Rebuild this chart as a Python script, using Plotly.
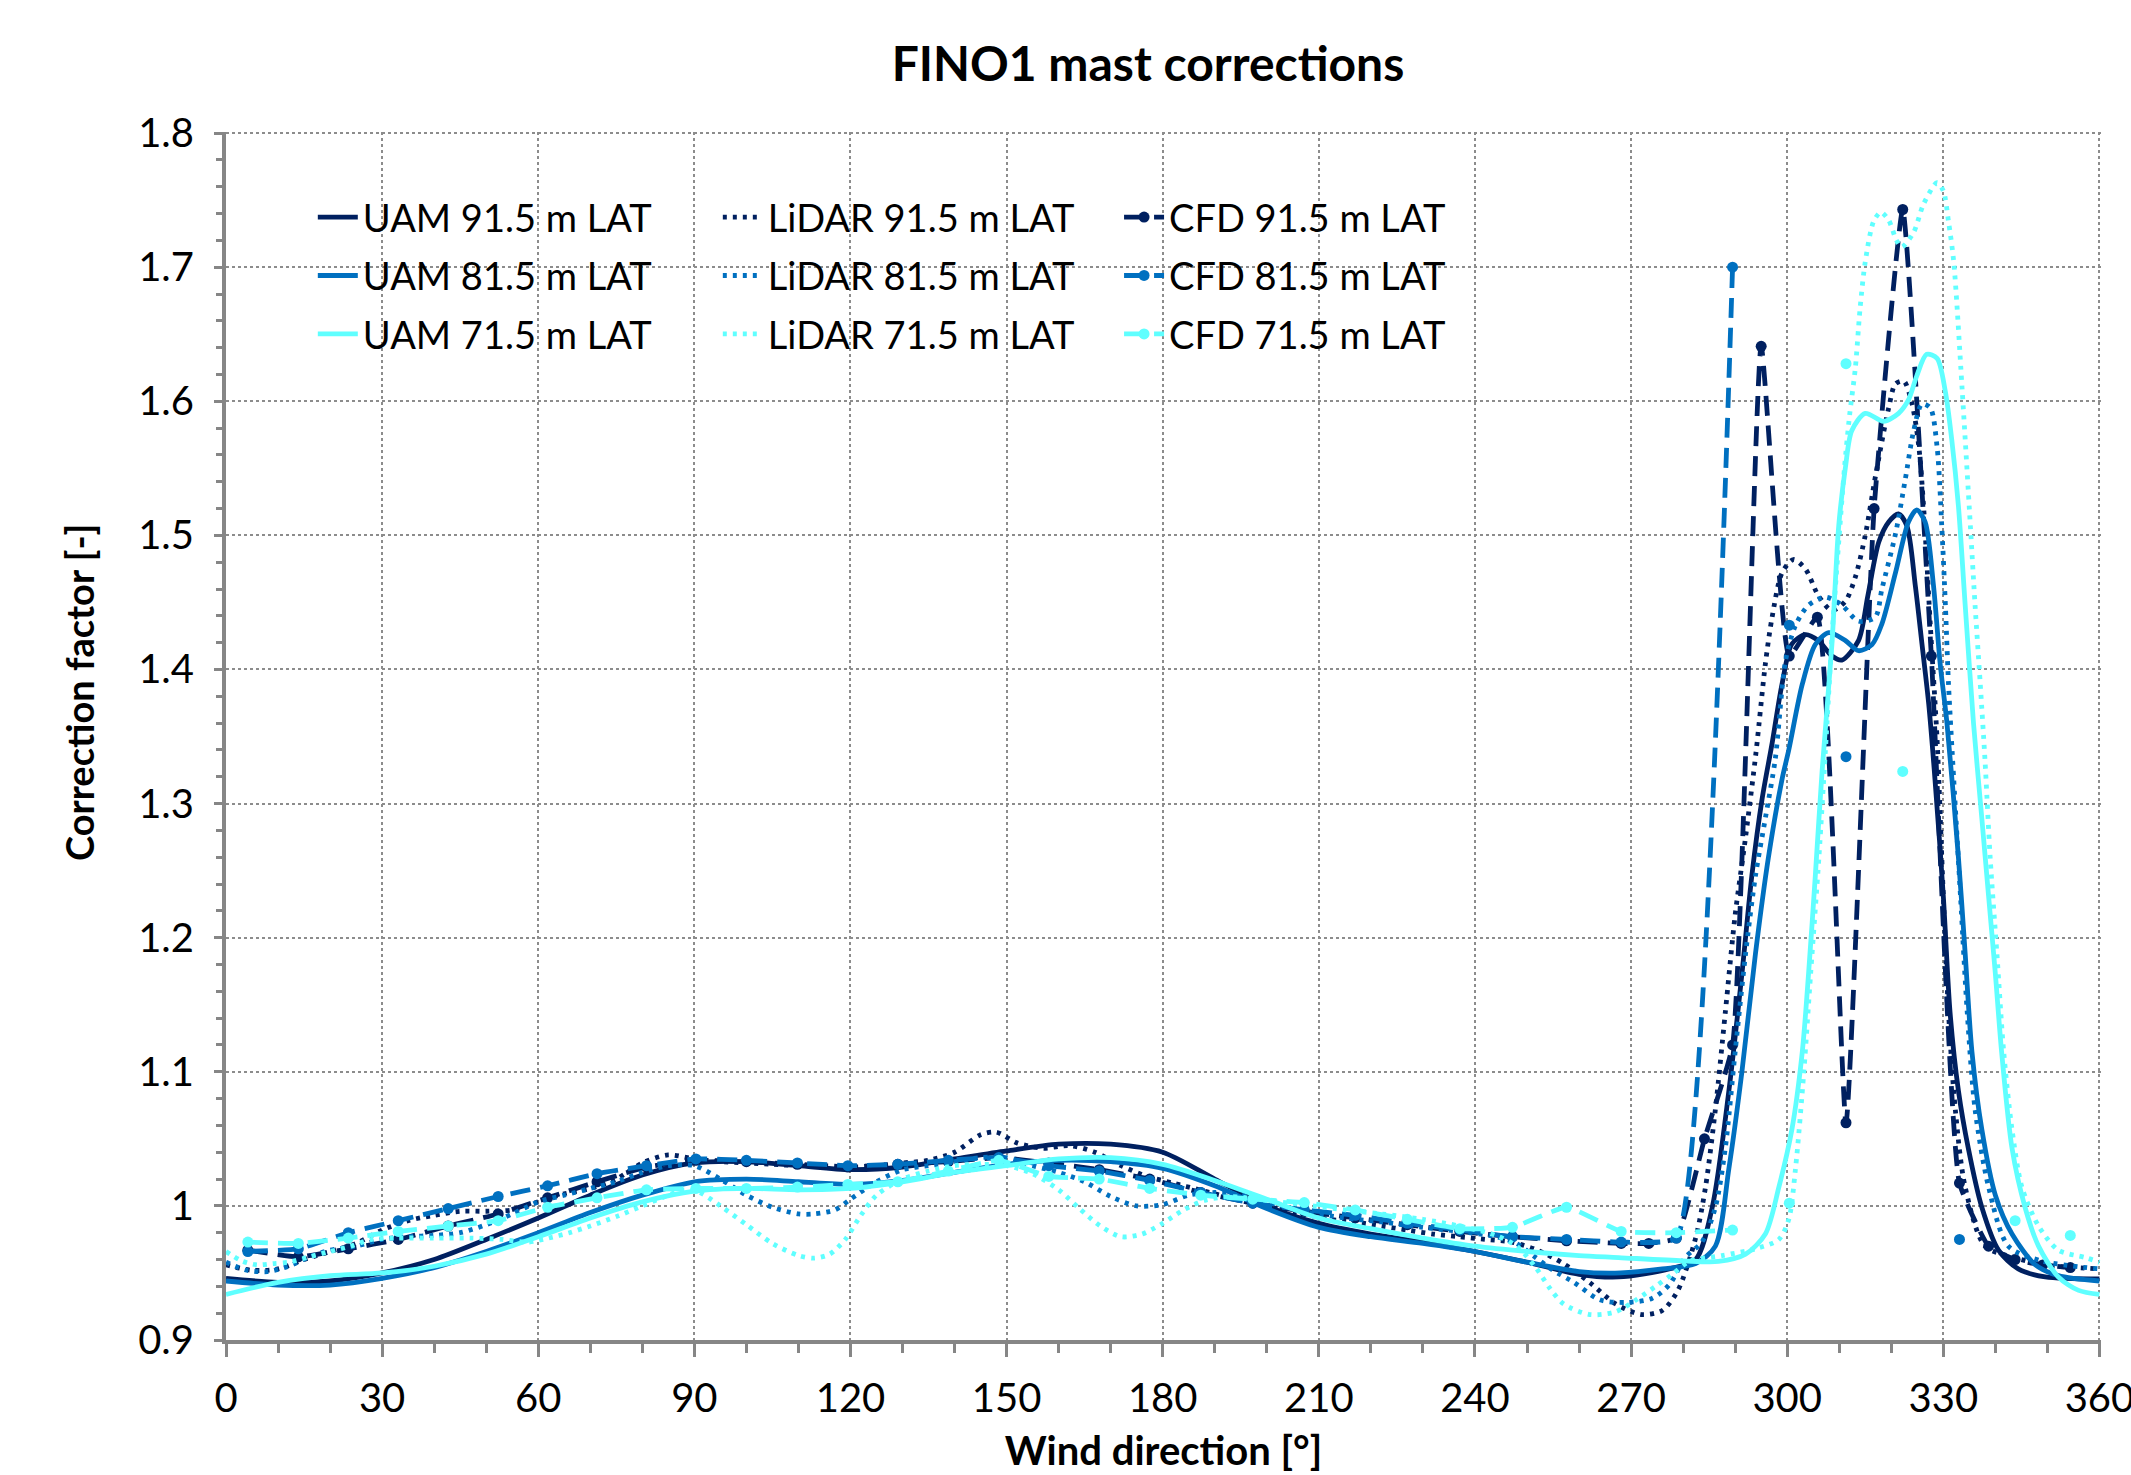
import plotly.graph_objects as go

# ---------------- data ----------------
UAM91_DIR = [0, 10, 20, 30, 40, 50, 60, 70, 80, 90, 100, 110, 120, 130, 140, 150, 160, 170, 180, 190,
             200, 210, 220, 230, 240, 250, 260, 267.6, 277.3, 282.4, 285.6, 288.8, 291.3, 293.2, 295.2,
             297.1, 299, 300.9, 303.5, 306, 308.6, 310.5, 313.7, 315.5, 317.6, 319.5, 321.4, 323, 324.6,
             325.9, 327.2, 328.4, 330, 331.3, 332.9, 334.8, 337.4, 340.6, 344.4, 349.6, 360]
UAM91_VAL = [0.946, 0.943, 0.944, 0.950, 0.960, 0.975, 0.991, 1.008, 1.023, 1.032, 1.033, 1.030, 1.027,
             1.029, 1.035, 1.041, 1.046, 1.046, 1.040, 1.020, 1.000, 0.987, 0.979, 0.973, 0.966, 0.958,
             0.949, 0.947, 0.953, 0.960, 0.999, 1.086, 1.173, 1.246, 1.304, 1.345, 1.389, 1.419, 1.426,
             1.4215, 1.410, 1.407, 1.4215, 1.455, 1.495, 1.510, 1.516, 1.507, 1.463, 1.419, 1.374, 1.318,
             1.231, 1.144, 1.086, 1.043, 0.999, 0.967, 0.953, 0.947, 0.9455]

UAM81_DIR = [0, 10, 20, 30, 40, 50, 60, 70, 80, 90, 100, 110, 120, 130, 140, 150, 160, 170, 180, 190,
             200, 210, 220, 230, 240, 250, 260, 268, 276, 282.4, 286.2, 288.8, 291.3, 293.9, 296.4, 299,
             300.3, 302.9, 305.4, 308, 311.2, 313.7, 316.3, 318.2, 320.8, 323.3, 324.9, 326.5, 328.1,
             329.4, 330.7, 332.9, 334.2, 335.5, 337.4, 340, 343.2, 347.7, 352.1, 360]
UAM81_VAL = [0.944, 0.941, 0.941, 0.946, 0.954, 0.966, 0.980, 0.995, 1.008, 1.018, 1.020, 1.018, 1.016,
             1.019, 1.025, 1.031, 1.034, 1.033, 1.028, 1.015, 0.998, 0.984, 0.977, 0.972, 0.966, 0.958,
             0.951, 0.950, 0.953, 0.957, 0.970, 1.028, 1.100, 1.188, 1.260, 1.318, 1.340, 1.389, 1.4186,
             1.4275, 1.4215, 1.414, 1.4186, 1.434, 1.472, 1.510, 1.519, 1.510, 1.463, 1.404, 1.360, 1.260,
             1.188, 1.115, 1.057, 1.008, 0.979, 0.956, 0.948, 0.944]

UAM71_DIR = [0, 10, 20, 30, 40, 50, 60, 70, 80, 90, 100, 110, 120, 130, 140, 150, 160, 170, 180, 190,
             200, 210, 220, 230, 240, 250, 260, 267.6, 280, 286.8, 292, 295.8, 298.4, 300.9, 302.9, 304.1,
             305.4, 306.7, 308.6, 309.9, 311.2, 312.4, 315, 318.5, 321.4, 323.3, 324.9, 326.8, 328.8,
             330.4, 331.6, 332.9, 334.2, 335.8, 337.4, 338.7, 340, 341.2, 343.2, 345.7, 348.3, 352.1, 356, 360]
UAM71_VAL = [0.934, 0.943, 0.948, 0.950, 0.955, 0.964, 0.977, 0.991, 1.003, 1.011, 1.013, 1.012, 1.013,
             1.018, 1.025, 1.030, 1.035, 1.036, 1.031, 1.019, 1.005, 0.991, 0.983, 0.976, 0.970, 0.966,
             0.963, 0.9615, 0.959, 0.9586, 0.964, 0.979, 1.014, 1.057, 1.115, 1.173, 1.246, 1.324, 1.419,
             1.507, 1.551, 1.578, 1.591, 1.585, 1.591, 1.601, 1.619, 1.635, 1.632, 1.607, 1.572, 1.522,
             1.448, 1.360, 1.289, 1.231, 1.173, 1.115, 1.043, 0.999, 0.970, 0.947, 0.937, 0.934]

LID91_DIR = [0, 5, 10, 15, 20, 25, 30, 35, 40, 45, 50, 55, 60, 65, 70, 75, 80, 85, 90, 95, 100, 105, 110,
             115, 120, 125, 130, 135, 140, 145, 148, 152, 157, 162, 167, 172, 177, 182, 187, 192, 197, 202,
             207, 212, 217, 222, 227, 232, 237, 242, 247, 252, 257, 262, 267, 272, 276, 279, 282.4, 284.3,
             286.2, 288.1, 290, 292, 294, 295.8, 297.1, 299, 301.2, 303.5, 306, 308.6, 311.2, 313.1, 315,
             317, 319.5, 320.8, 322.4, 324, 325.3, 326.2, 327.5, 328.8, 330, 331, 332.3, 334.2, 338, 343.2,
             349.6, 360]
LID91_VAL = [0.956, 0.952, 0.953, 0.960, 0.966, 0.972, 0.982, 0.989, 0.993, 0.996, 0.996, 0.997, 1.003,
             1.009, 1.013, 1.020, 1.032, 1.038, 1.035, 1.033, 1.032, 1.031, 1.030, 1.030, 1.029, 1.030,
             1.032, 1.034, 1.040, 1.053, 1.055, 1.047, 1.043, 1.045, 1.040, 1.030, 1.022, 1.017, 1.012,
             1.007, 1.002, 0.998, 0.994, 0.990, 0.988, 0.985, 0.982, 0.979, 0.977, 0.975, 0.973, 0.967,
             0.957, 0.943, 0.927, 0.919, 0.922, 0.937, 0.976, 1.014, 1.072, 1.144, 1.217, 1.275, 1.338,
             1.404, 1.439, 1.472, 1.482, 1.475, 1.455, 1.444, 1.451, 1.469, 1.500, 1.545, 1.595, 1.613,
             1.615, 1.598, 1.566, 1.522, 1.433, 1.348, 1.231, 1.144, 1.072, 1.014, 0.970, 0.962, 0.956, 0.953]

LID81_DIR = [0, 4, 8, 12, 16, 20, 25, 30, 35, 40, 45, 50, 55, 60, 65, 70, 75, 80, 85, 90, 95, 100, 105,
             110, 113, 117, 120, 125, 130, 135, 140, 145, 150, 155, 160, 165, 170, 175, 180, 185, 190, 195,
             200, 207, 215, 222, 230, 237, 244, 248, 251.5, 255, 259, 264, 269, 274, 277.3, 280.4, 283.6,
             286.2, 288.1, 290, 292, 293.9, 295.8, 297.7, 299.7, 301.6, 304.1, 307.3, 310.5, 313.7, 316.9,
             318.2, 320.8, 322.7, 324.3, 325.9, 327.5, 328.8, 329.7, 330.4, 331, 332, 333.3, 334.6, 336.1,
             338.7, 342.5, 348.9, 360]
LID81_VAL = [0.958, 0.952, 0.951, 0.955, 0.962, 0.967, 0.970, 0.975, 0.977, 0.978, 0.980, 0.986, 0.994,
             1.003, 1.008, 1.013, 1.018, 1.025, 1.030, 1.030, 1.020, 1.008, 0.999, 0.994, 0.994, 0.997,
             1.005, 1.018, 1.027, 1.030, 1.033, 1.036, 1.036, 1.030, 1.025, 1.018, 1.007, 1.000, 1.001,
             1.008, 1.010, 1.008, 1.003, 0.996, 0.991, 0.988, 0.984, 0.981, 0.977, 0.972, 0.962, 0.952,
             0.943, 0.930, 0.928, 0.931, 0.941, 0.9615, 0.973, 0.999, 1.043, 1.115, 1.188, 1.246, 1.289,
             1.333, 1.407, 1.433, 1.448, 1.454, 1.448, 1.436, 1.439, 1.460, 1.501, 1.542, 1.578, 1.598,
             1.595, 1.566, 1.507, 1.448, 1.389, 1.318, 1.231, 1.144, 1.072, 1.014, 0.970, 0.959, 0.953]

LID71_DIR = [0, 3, 6, 9, 12, 16, 20, 24, 28, 33, 40, 47, 53, 58, 62, 66, 70, 75, 80, 85, 88, 91, 95, 100,
             105, 110, 113, 116, 119, 122, 125, 130, 135, 140, 145, 150, 155, 160, 164, 168, 172, 176, 180,
             184, 188, 193, 200, 207, 215, 222, 230, 237, 244, 248, 251.5, 254.5, 257, 262, 267, 271,
             274.7, 277.9, 281.4, 287.5, 293.9, 298.4, 300.3, 301.6, 303.2, 304.5, 306.1, 307.5, 308.7, 310,
             311, 312, 313.1, 314, 315, 316.6, 318, 319.5, 321, 322, 324.3, 326.2, 328.8, 330, 331, 332,
             333.6, 335.2, 336.1, 337.1, 338, 339, 340.3, 341.6, 343.2, 345.1, 348.3, 352.1, 357.3, 360]
LID71_VAL = [0.966, 0.959, 0.956, 0.957, 0.958, 0.962, 0.966, 0.970, 0.975, 0.976, 0.976, 0.976, 0.975,
             0.973, 0.976, 0.980, 0.985, 0.992, 1.000, 1.008, 1.012, 1.010, 1.000, 0.986, 0.972, 0.963,
             0.961, 0.964, 0.975, 0.993, 1.008, 1.020, 1.026, 1.030, 1.031, 1.030, 1.024, 1.012, 0.998,
             0.985, 0.977, 0.979, 0.987, 0.997, 1.004, 1.007, 1.004, 1.001, 0.997, 0.994, 0.990, 0.985,
             0.978, 0.970, 0.955, 0.938, 0.927, 0.919, 0.921, 0.930, 0.940, 0.949, 0.959, 0.963, 0.968,
             0.975, 0.990, 1.028, 1.100, 1.173, 1.260, 1.350, 1.430, 1.500, 1.550, 1.590, 1.625, 1.669,
             1.704, 1.734, 1.741, 1.735, 1.720, 1.715, 1.726, 1.747, 1.763, 1.757, 1.734, 1.704, 1.610,
             1.507, 1.448, 1.389, 1.333, 1.260, 1.188, 1.115, 1.057, 1.014, 0.985, 0.967, 0.9615, 0.958]

CFD91_DIR = [4.2, 13.9, 23.5, 33.1, 42.7, 52.3, 61.8, 71.3, 80.8, 90.3, 100.0, 109.8, 119.5, 129.1, 138.8,
             148.5, 158.1, 167.8, 177.5, 187.3, 197.3, 207.2, 217.0, 227.0, 237.1, 247.2, 257.6, 268.1,
             273.4, 278.7, 284.1, 289.5, 295.0, 300.4, 305.8, 311.3, 316.7, 322.2, 327.7, 333.1, 338.7,
             343.8, 349.1, 354.4]
CFD91_VAL = [0.967, 0.962, 0.968, 0.975, 0.985, 0.994, 1.006, 1.018, 1.029, 1.034, 1.033, 1.031, 1.029,
             1.031, 1.033, 1.036, 1.032, 1.027, 1.020, 1.010, 1.002, 0.996, 0.991, 0.986, 0.981, 0.977,
             0.974, 0.972, 0.972, 0.976, 1.050, 1.120, 1.641, 1.410, 1.439, 1.062, 1.520, 1.743, 1.410,
             1.017, 0.970, 0.960, 0.956, 0.954]

CFD81_DIR = [4.2, 13.9, 23.5, 33.1, 42.7, 52.3, 61.8, 71.3, 80.8, 90.3, 100.0, 109.8, 119.5, 129.1, 138.8,
             148.5, 158.1, 167.8, 177.5, 187.3, 197.3, 207.2, 217.0, 227.0, 237.1, 247.2, 257.6, 268.1,
             278.7, 289.5, 295.0, 300.4, 305.8, 311.3, 322.2, 333.1]
CFD81_VAL = [0.966, 0.968, 0.980, 0.989, 0.998, 1.007, 1.015, 1.024, 1.030, 1.035, 1.034, 1.032, 1.030,
             1.031, 1.034, 1.036, 1.030, 1.026, 1.019, 1.010, 1.002, 0.997, 0.993, 0.987, 0.982, 0.977,
             0.975, 0.973, 0.976, 1.700, None, 1.433, None, 1.335, None, 0.975]

CFD71_DIR = [4.2, 13.9, 23.5, 33.1, 42.7, 52.3, 61.8, 71.3, 80.8, 90.3, 100.0, 109.8, 119.5, 129.1, 138.8,
             148.5, 158.1, 167.8, 177.5, 187.3, 197.3, 207.2, 217.0, 227.0, 237.1, 247.2, 257.6, 268.1,
             278.7, 289.5, 295.0, 300.4, 305.8, 311.3, 316.7, 322.2, 333.1, 343.8, 349.1, 354.4]
CFD71_VAL = [0.973, 0.972, 0.976, 0.981, 0.985, 0.989, 0.999, 1.006, 1.012, 1.013, 1.013, 1.014, 1.016,
             1.018, 1.026, 1.034, 1.022, 1.020, 1.013, 1.008, 1.005, 1.0025, 0.997, 0.990, 0.983, 0.984,
             0.999, 0.981, 0.980, 0.982, None, 1.002, None, 1.628, None, 1.324, None, 0.989, None, 0.978]

X_TICKS = [0, 30, 60, 90, 120, 150, 180, 210, 240, 270, 300, 330, 360]
Y_TICKS = [0.9, 1.0, 1.1, 1.2, 1.3, 1.4, 1.5, 1.6, 1.7, 1.8]
Y_TICK_TEXT = ["0.9", "1", "1.1", "1.2", "1.3", "1.4", "1.5", "1.6", "1.7", "1.8"]
X_RANGE = [0, 360.3]
Y_RANGE = [0.9, 1.8008]

NAVY, BLUE, CYAN = "#002060", "#0070C0", "#5FFFFF"
FONT = "Lato, 'Open Sans', sans-serif"

fig = go.Figure()

series = [
    ("UAM 91.5 m LAT", UAM91_DIR, UAM91_VAL, NAVY, "uam", "legend"),
    ("LiDAR 91.5 m LAT", LID91_DIR, LID91_VAL, NAVY, "lid", "legend2"),
    ("CFD 91.5 m LAT", CFD91_DIR, CFD91_VAL, NAVY, "cfd", "legend3"),
    ("UAM 81.5 m LAT", UAM81_DIR, UAM81_VAL, BLUE, "uam", "legend"),
    ("LiDAR 81.5 m LAT", LID81_DIR, LID81_VAL, BLUE, "lid", "legend2"),
    ("CFD 81.5 m LAT", CFD81_DIR, CFD81_VAL, BLUE, "cfd", "legend3"),
    ("UAM 71.5 m LAT", UAM71_DIR, UAM71_VAL, CYAN, "uam", "legend"),
    ("LiDAR 71.5 m LAT", LID71_DIR, LID71_VAL, CYAN, "lid", "legend2"),
    ("CFD 71.5 m LAT", CFD71_DIR, CFD71_VAL, CYAN, "cfd", "legend3"),
]

for name, xs, ys, col, kind, lg in series:
    if kind == "uam":
        fig.add_trace(go.Scatter(x=xs, y=ys, name=name, mode="lines", legend=lg, legendgroup=name,
                                 line=dict(color=col, width=4.8, shape="spline", smoothing=0.8)))
    elif kind == "lid":
        fig.add_trace(go.Scatter(x=xs, y=ys, name=name, mode="lines", legend=lg, legendgroup=name,
                                 line=dict(color=col, width=4.8, dash="4px,6px", shape="spline", smoothing=0.8)))
    else:
        fig.add_trace(go.Scatter(x=xs, y=ys, name=name, mode="lines+markers", legend=lg, legendgroup=name,
                                 connectgaps=False,
                                 line=dict(color=col, width=4.8, dash="20px,10px", shape="spline", smoothing=0.4),
                                 marker=dict(color=col, size=11, symbol="circle")))

axis_gray = "#868686"
grid_gray = "#8c8c8c"

legend_common = dict(yanchor="top", xanchor="left", bgcolor="rgba(0,0,0,0)",
                     font=dict(size=38), tracegroupgap=6, itemwidth=40)

fig.update_layout(
    width=2131, height=1475,
    margin=dict(l=226, r=30, t=132, b=135, autoexpand=False),
    paper_bgcolor="white", plot_bgcolor="white",
    font=dict(family=FONT, size=38, color="black"),
    title=dict(text="<b>FINO1 mast corrections</b>", x=0.5387, xanchor="center",
               y=1 - 64 / 1475, yanchor="middle", font=dict(family=FONT, size=48, color="black")),
    xaxis=dict(range=X_RANGE, tickvals=X_TICKS, showgrid=True, gridcolor=grid_gray, griddash="dot",
               gridwidth=1.5, showline=True, linecolor=axis_gray, linewidth=4, ticks="outside",
               ticklen=13, tickwidth=2.5, tickcolor=axis_gray, ticklabelstandoff=7, zeroline=False,
               automargin=False, ticklabeloverflow="allow",
               minor=dict(dtick=10, ticks="outside", ticklen=9, tickwidth=2.5, tickcolor=axis_gray, showgrid=False),
               title=dict(text="<b>Wind direction [°]</b>", font=dict(size=40), standoff=18),
               tickfont=dict(size=40)),
    yaxis=dict(range=Y_RANGE, tickvals=Y_TICKS, ticktext=Y_TICK_TEXT, showgrid=True, gridcolor=grid_gray,
               griddash="dot", gridwidth=1.5, showline=True, linecolor=axis_gray, linewidth=4,
               ticks="outside", ticklen=8, tickwidth=2.5, tickcolor=axis_gray, ticklabelstandoff=12,
               zeroline=False, automargin=False,
               minor=dict(dtick=0.02, ticks="outside", ticklen=6, tickwidth=2.5, tickcolor=axis_gray, showgrid=False),
               tickfont=dict(size=40)),
    annotations=[dict(text="<b>Correction factor [-]</b>", textangle=-90, xref="paper", yref="paper",
                      x=(79 - 226) / 1875, y=(1340 - 692) / 1208, xanchor="center", yanchor="middle",
                      showarrow=False, font=dict(size=38, family=FONT, color="black"))],
    legend=dict(x=0.0463, y=0.9554, **legend_common),
    legend2=dict(x=0.2623, y=0.9554, **legend_common),
    legend3=dict(x=0.4763, y=0.9554, **legend_common),
)

fig.write_html("out.html", config={"displayModeBar": False},
               post_script="document.body.style.margin='0px';document.body.style.overflow='hidden';")
